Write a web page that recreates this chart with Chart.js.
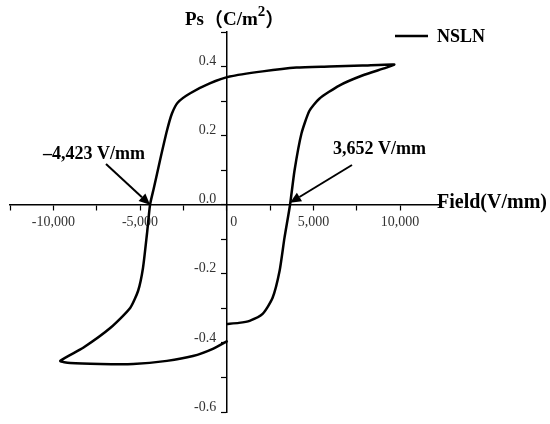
<!DOCTYPE html>
<html>
<head>
<meta charset="utf-8">
<script src="https://cdn.jsdelivr.net/npm/chart.js@4"></script>
<style>
  html, body { margin: 0; padding: 0; background: #fff; }
  #wrap { width: 550px; height: 424px; }
</style>
</head>
<body>
<div id="wrap"><canvas id="loopChart"></canvas></div>
<script>
// P-E loop: field in V/mm, polarization in C/m2
const fieldValues = [
  0, 700, 1320, 2070, 2640, 3050, 3330, 3652, 3910, 4310, 4770, 5340, 6490, 7820, 9200, 9660,
  7820, 5920, 4020, 2070, 170, -980, -2130, -2820, -3160, -3450, -3850, -4200, -4423,
  -4600, -4830, -5110, -5570, -6720, -8280, -9600,
  -9020, -7300, -5400, -3450, -1950, -800, 50
];
const polarValues = [
  -0.345, -0.342, -0.336, -0.316, -0.270, -0.191, -0.096, 0, 0.099, 0.206, 0.272, 0.307, 0.345, 0.374, 0.397, 0.406,
  0.403, 0.400, 0.397, 0.386, 0.371, 0.351, 0.322, 0.296, 0.264, 0.214, 0.128, 0.049, 0,
  -0.084, -0.183, -0.249, -0.299, -0.357, -0.414, -0.452,
  -0.458, -0.461, -0.461, -0.452, -0.438, -0.417, -0.394
];
const xTickValues = [-12500, -10000, -7500, -5000, -2500, 0, 2500, 5000, 7500, 10000];
const xTickLabels = ['', '-10,000', '', '-5,000', '', '0', '', '5,000', '', '10,000'];
const seriesName = 'NSLN';
const coerciveFields = [-4423, 3652];
const coerciveLabels = ['–4,423 V/mm', '3,652 V/mm'];

const serif = '"Liberation Serif", "Times New Roman", serif';
const cjk = '"Noto Sans CJK SC", sans-serif';

const points = fieldValues.map((v, i) => ({ x: v, y: polarValues[i] }));

function arrow(ctx, x1, y1, x2, y2) {
  const ang = Math.atan2(y2 - y1, x2 - x1);
  const hl = 11, hw = 5;
  const bx = x2 - hl * Math.cos(ang), by = y2 - hl * Math.sin(ang);
  ctx.beginPath();
  ctx.moveTo(x1, y1);
  ctx.lineTo(bx, by);
  ctx.lineWidth = 2;
  ctx.stroke();
  ctx.beginPath();
  ctx.moveTo(x2, y2);
  ctx.lineTo(bx + hw * Math.sin(ang), by - hw * Math.cos(ang));
  ctx.lineTo(bx - hw * Math.sin(ang), by + hw * Math.cos(ang));
  ctx.closePath();
  ctx.fill();
}

const extras = {
  id: 'extras',
  afterDraw(chart) {
    const ctx = chart.ctx;
    const xs = chart.scales.x, ys = chart.scales.y;
    const y0 = ys.getPixelForValue(0);
    ctx.save();
    ctx.fillStyle = '#000';
    ctx.strokeStyle = '#000';
    ctx.textBaseline = 'middle';
    ctx.textAlign = 'left';

    // x axis title
    ctx.font = 'bold 20px ' + serif;
    ctx.fillText('Field(V/mm)', chart.chartArea.right - 3, y0 - 2);

    // y axis title, drawn piece by piece for the superscript
    const parts = [
      ['Ps', 'bold 19px ' + serif, 20],
      ['（', 'bold 19px ' + cjk, 20],
      ['C/m', 'bold 19px ' + serif, 20],
      ['2', 'bold 15px ' + serif, 12],
      ['）', 'bold 19px ' + cjk, 20]
    ];
    let tx = 185;
    parts.forEach(([txt, font, ty]) => {
      ctx.font = font;
      ctx.fillText(txt, tx, ty);
      tx += ctx.measureText(txt).width;
    });

    // legend
    ctx.beginPath();
    ctx.moveTo(395, 36);
    ctx.lineTo(428, 36);
    ctx.lineWidth = 2.5;
    ctx.stroke();
    ctx.font = 'bold 18px ' + serif;
    ctx.fillText(seriesName, 437, 37);

    // coercive field callouts
    ctx.font = 'bold 18px ' + serif;
    ctx.fillText(coerciveLabels[0], 43, 154);
    ctx.fillText(coerciveLabels[1], 333, 149);
    arrow(ctx, 106, 164, xs.getPixelForValue(coerciveFields[0]), y0);
    arrow(ctx, 352, 165, xs.getPixelForValue(coerciveFields[1]), y0 - 2);
    ctx.restore();
  }
};

new Chart(document.getElementById('loopChart'), {
  type: 'scatter',
  data: {
    datasets: [{
      label: seriesName,
      data: points,
      showLine: true,
      borderColor: '#000',
      borderWidth: 2.5,
      pointRadius: 0,
      tension: 0.2,
      fill: false
    }]
  },
  options: {
    responsive: true,
    maintainAspectRatio: false,
    animation: false,
    layout: { padding: { left: 10, right: 110, top: 32, bottom: 12 } },
    plugins: {
      legend: { display: false },
      tooltip: { enabled: false }
    },
    scales: {
      y: {
        type: 'linear',
        min: -0.6,
        max: 0.5,
        position: { x: 0 },
        grid: { drawOnChartArea: false, tickLength: 5, color: '#000', tickWidth: 1.2 },
        border: { color: '#000', width: 1.5 },
        ticks: {
          stepSize: 0.1,
          autoSkip: false,
          labelOffset: -5,
          color: '#333',
          font: { family: serif, size: 14 },
          callback: v => {
            const k = Math.round(v * 10);
            return k % 2 === 0 ? (k / 10).toFixed(1) + '   ' : '';
          }
        }
      },
      x: {
        type: 'linear',
        min: -12500,
        max: 12300,
        position: { y: 0 },
        afterBuildTicks: scale => {
          scale.ticks = xTickValues.map(v => ({ value: v }));
        },
        grid: { drawOnChartArea: false, tickLength: 5, color: '#000', tickWidth: 1.2 },
        border: { color: '#000', width: 1.5 },
        ticks: {
          autoSkip: false,
          maxRotation: 0,
          padding: 4,
          color: '#333',
          font: { family: serif, size: 14 },
          callback: (v, i) => (i === 5 ? '    ' : '') + xTickLabels[i]
        }
      }
    }
  },
  plugins: [extras]
});
</script>
</body>
</html>
